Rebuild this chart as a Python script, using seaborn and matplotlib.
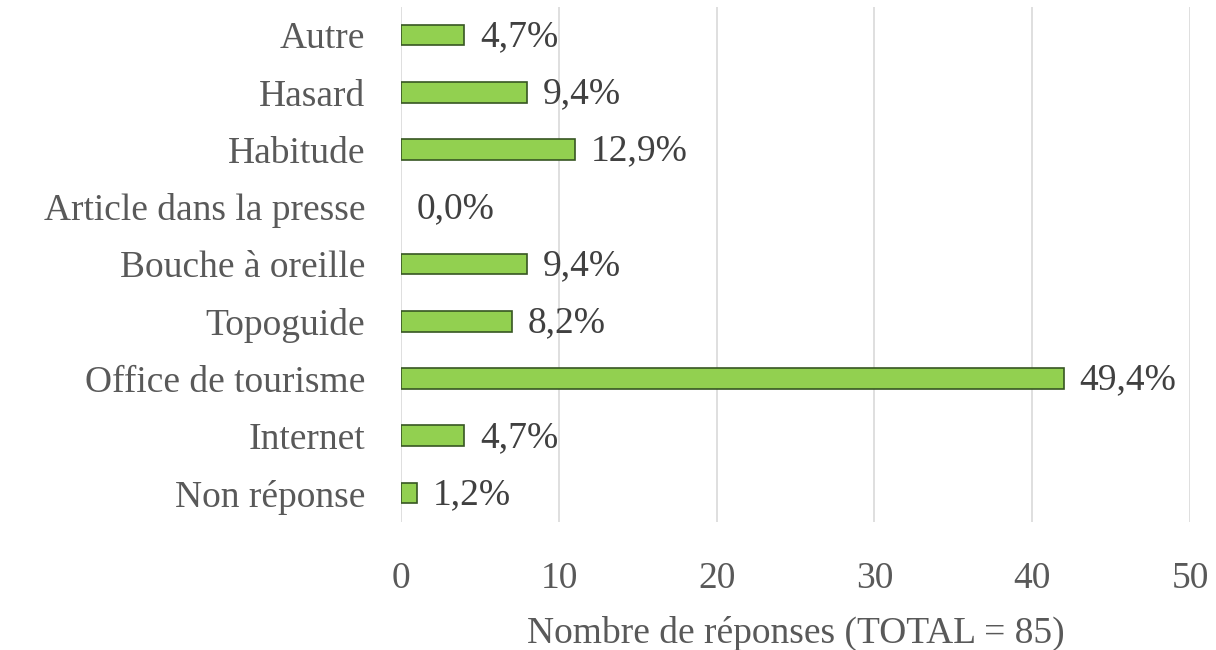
import pandas as pd
import matplotlib.pyplot as plt
import seaborn as sns

# Données
categories = ['Autre', 'Hasard', 'Habitude', 'Article dans la presse',
              'Bouche à oreille', 'Topoguide', 'Office de tourisme',
              'Internet', 'Non réponse']
reponses = [4, 8, 11, 0, 8, 7, 42, 4, 1]
pourcentages = ['4,7%', '9,4%', '12,9%', '0,0%', '9,4%', '8,2%',
                '49,4%', '4,7%', '1,2%']

df = pd.DataFrame({'categorie': categories, 'reponses': reponses})

sns.set_theme(style='white')
plt.rcParams['font.family'] = ['Liberation Serif', 'DejaVu Serif']
gris = '#595959'
taille = 27

fig = plt.figure(figsize=(12.16, 6.5), dpi=100)
ax = fig.add_axes([0.33, 0.1975, 0.6486, 0.7925])

sns.barplot(data=df, x='reponses', y='categorie', orient='h',
            color='#92D050', edgecolor='#375623', linewidth=1.2,
            width=0.36, saturation=1, ax=ax)

# pas de contour pour les barres vides
for p in ax.patches:
    if p.get_width() == 0:
        p.set_visible(False)

for i, (v, p) in enumerate(zip(reponses, pourcentages)):
    ax.text(v + 1.0, i + 0.03, p, va='center', ha='left', fontsize=taille, color='#404040')

ax.set_xlim(0, 50)
ax.set_xticks(range(0, 51, 10))
ax.xaxis.grid(True, color='#d9d9d9', linewidth=1.2)
ax.set_axisbelow(True)
for s in ax.spines.values():
    s.set_visible(False)
ax.tick_params(axis='both', length=0, labelsize=taille, colors=gris)
ax.tick_params(axis='x', pad=29)
ax.tick_params(axis='y', pad=26)
ax.set_ylabel('')
ax.set_xlabel('Nombre de réponses (TOTAL = 85)', fontsize=taille, color=gris, labelpad=14)

plt.savefig('out.png', dpi=100)
